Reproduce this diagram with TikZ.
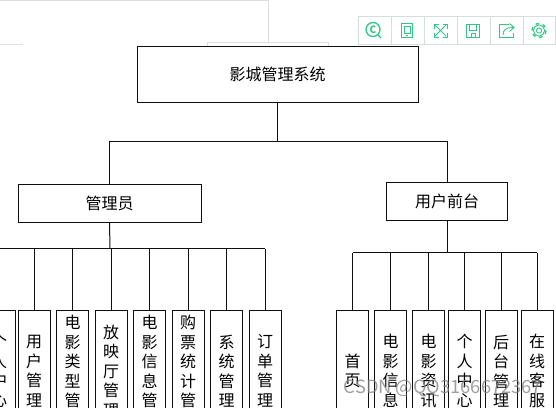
\documentclass[tikz,border=0pt]{standalone}
\usepackage{fontspec}
\setmainfont{Noto Sans CJK SC}
\usetikzlibrary{positioning,calc}
\definecolor{linecol}{RGB}{15,15,15}
\definecolor{pagecol}{RGB}{222,222,222}
\definecolor{barcol}{RGB}{212,222,218}
\definecolor{iconcol}{RGB}{45,200,130}
\tikzset{
  sysbox/.style={draw=linecol,fill=white,line width=1pt,font=\fontsize{16}{19}\selectfont,
    minimum width=#1,inner sep=0pt},
  leafbox/.style={draw=linecol,fill=white,line width=1pt,minimum width=32pt,minimum height=122pt,
    inner sep=0pt,align=center,font=\fontsize{16}{19.5}\selectfont},
  wire/.style={draw=linecol,line width=1pt},
  icon/.style={draw=iconcol,line width=0.9pt}
}
\begin{document}
\begin{tikzpicture}[x=1pt,y=-1pt]
  \useasboundingbox (0,0) rectangle (556,407);
  \clip (0,0) rectangle (556,407);
  % page behind the chart
  \draw[pagecol,line width=1pt] (0,0.5)--(268,0.5)--(268,42);
  \draw[pagecol,line width=1pt] (0,44.5)--(23,44.5);
  \draw[pagecol,line width=1pt] (207.5,46)--(207.5,42.5)--(328.5,42.5)--(328.5,46);
  % tool bar
  \draw[barcol,line width=1pt] (358,16.5) rectangle (555.5,44);
  \foreach \xbar in {391,424,457,490,523}
    \draw[barcol,line width=1pt] (\xbar,16.5)--(\xbar,44);
  \draw[icon,line width=1.3pt] (373,29.5) circle (7);
  \node[iconcol,font=\fontsize{10}{10}\selectfont\bfseries,inner sep=0pt] (copyicon) at (373,29.5) {C};
  \draw[icon,line width=1.3pt] (378,35)--(381,38);
  \draw[icon] (401.5,23.5) rectangle (412.5,37.5);
  \draw[icon] (404,26) rectangle (410,33);
  \draw[icon] (406,35.3)--(408,35.3);
  \draw[icon] (435,25)--(446,36);
  \draw[icon] (446,25)--(435,36);
  \draw[icon] (434,28.5)--(434,24)--(438.5,24);
  \draw[icon] (442.5,24)--(447,24)--(447,28.5);
  \draw[icon] (434,32.5)--(434,37)--(438.5,37);
  \draw[icon] (442.5,37)--(447,37)--(447,32.5);
  \draw[icon] (466.5,24) rectangle (479.5,37.5);
  \draw[icon] (469.5,24) rectangle (476.5,30.5);
  \draw[icon] (471,37.5) rectangle (475,33.5);
  \draw[icon] (509,24)--(499.5,24)--(499.5,37.5)--(513,37.5)--(513,33);
  \draw[icon] (503,35) .. controls (503,30) and (506,27.5) .. (513,27.5);
  \draw[icon] (509.5,23.5)--(514,27.5)--(509.5,31.5);
  \draw[icon,dash pattern=on 3.5pt off 3.83pt,line width=1.4pt] (539,30.5) circle (7);
  \draw[icon] (539,30.5) circle (5.6);
  \draw[icon] (539,30.5) circle (2.6);
  % chart
  \node[sysbox=281pt,minimum height=56pt] (root) at (277.5,74.5) {影城管理系统};
  \node[sysbox=183pt,minimum height=38pt] (admin) at (109.5,203.5) {管理员};
  \node[sysbox=121pt,minimum height=38pt] (front) at (447,201) {用户前台};
  \coordinate (topbus) at ($(root.south)+(0,38)$);
  \draw[wire] (root.south)--(topbus);
  \draw[wire] (admin.north)|-(topbus);
  \draw[wire] (front.north)|-(topbus);
  % admin leaves
  \coordinate (adminbus) at (110,248.5);
  \coordinate (adminleft) at (0,248.5);
  \draw[wire] (admin.south)--(adminbus);
  \foreach \nodename/\xpos/\labeltext in {
      a0/-1/个\\人\\中\\心,
      a1/34/用\\户\\管\\理,
      a2/72.5/电\\影\\类\\型\\管\\理,
      a3/111/放\\映\\厅\\管\\理,
      a4/149.5/电\\影\\信\\息\\管\\理,
      a5/188/购\\票\\统\\计\\管\\理,
      a6/226.5/系\\统\\管\\理,
      a7/265/订\\单\\管\\理}{
    \node[leafbox] (\nodename) at (\xpos,371) {\labeltext};
    \draw[wire] (\nodename.north)--(\nodename.north |- adminbus);
  }
  \draw[wire] (adminleft)--(a7.north |- adminbus);
  % front leaves
  \coordinate (frontbus) at (447,252.5);
  \draw[wire] (front.south)--(frontbus);
  \foreach \nodename/\xpos/\labeltext in {
      f1/352.5/首\\页,
      f2/390.5/电\\影\\信\\息,
      f3/428.5/电\\影\\资\\讯,
      f4/464.5/个\\人\\中\\心,
      f5/501/后\\台\\管\\理,
      f6/537/在\\线\\客\\服}{
    \node[leafbox] (\nodename) at (\xpos,371) {\labeltext};
    \draw[wire] (\nodename.north)--(\nodename.north |- frontbus);
  }
  \draw[wire] (f1.north |- frontbus)--(f6.north |- frontbus);
  % watermark
  \node[gray,opacity=0.75,font=\fontsize{18.3}{19}\selectfont,inner sep=0pt] (mark) at (443,388) {CSDN @QQ3166672367};
\end{tikzpicture}
\end{document}
